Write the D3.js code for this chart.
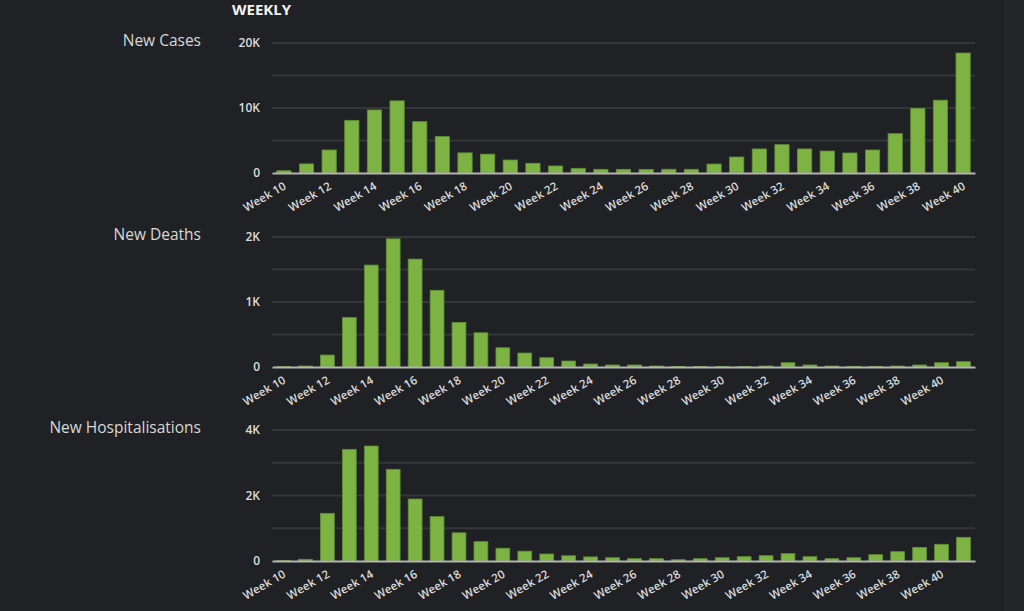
<!DOCTYPE html>
<html>
<head>
<meta charset="utf-8">
<script src="https://d3js.org/d3.v7.min.js"></script>
<style>
  body { margin: 0; background: #202124; }
  svg { display: block; }
</style>
</head>
<body>
<svg id="drawing_region"></svg>
<script>
// weekly figures
const caseWeeks = d3.range(10, 41);
const caseValues = [350, 1400, 3540, 8100, 9700, 11100, 7900, 5600, 3100, 2900,
    2000, 1500, 1080, 720, 570, 570, 560, 580, 570, 1380,
    2460, 3700, 4360, 3700, 3380, 3080, 3540, 6050, 9950, 11200,
    18460];

const deathWeeks = d3.range(10, 42);
const deathValues = [5, 15, 184, 762, 1568, 1972, 1660, 1180, 685, 526,
    296, 215, 143, 92, 46, 31, 31, 15, 8, 8,
    6, 6, 15, 66, 31, 15, 10, 10, 15, 31,
    66, 82];

const hospWeeks = d3.range(10, 42);
const hospValues = [10, 52, 1456, 3410, 3511, 2799, 1893, 1355, 860, 590,
    390, 300, 214, 160, 125, 100, 71, 71, 40, 71,
    100, 132, 163, 224, 132, 71, 100, 193, 285, 417,
    509, 723];

const caseGrid = [0, 5000, 10000, 15000, 20000];
const caseTicks = [0, 10000, 20000];
const deathGrid = [0, 500, 1000, 1500, 2000];
const deathTicks = [0, 1000, 2000];
const hospGrid = [0, 1000, 2000, 3000, 4000];
const hospTicks = [0, 2000, 4000];

const svg = d3.select('#drawing_region')
    .attr('width', 1024)
    .attr('height', 611);

svg.append('rect')
    .attr('width', 1024).attr('height', 611)
    .attr('fill', '#202124');
svg.append('rect')
    .attr('x', 1004).attr('width', 20).attr('height', 611)
    .attr('fill', '#242529');

svg.append('text')
    .attr('x', 232)
    .attr('y', 15)
    .attr('fill', '#f2f2f2')
    .attr('font-family', 'Open Sans, sans-serif')
    .attr('font-size', '15px')
    .attr('font-weight', 'bold')
    .text('WEEKLY');

class BarChart {

    constructor( config, weeks, values ) {
        this.config = {
            parent: config.parent,
            title: config.title,
            top: config.top,
            bottom: config.bottom,
            left: config.left || 272,
            right: config.right || 975,
            ymax: config.ymax,
            grid: config.grid,
            ticks: config.ticks
        };
        this.data = weeks.map( (w, i) => ({ week: w, value: values[i] }) );
        this.init();
    }

    init() {
        let self = this;

        self.chart = self.config.parent.append('g');

        self.xscale = d3.scaleBand()
            .range( [self.config.left, self.config.right] )
            .paddingInner(0.37)
            .paddingOuter(0.21);

        self.yscale = d3.scaleLinear()
            .range( [self.config.bottom, self.config.top] );

        self.grid_group = self.chart.append('g');
        self.bar_group = self.chart.append('g');
        self.xaxis_group = self.chart.append('g')
            .attr('transform', `translate(0, ${self.config.bottom})`);
        self.yaxis_group = self.chart.append('g')
            .attr('transform', `translate(${self.config.left}, 0)`);

        self.chart.append('text')
            .attr('x', 201)
            .attr('y', self.config.top - 2)
            .attr('dy', '0.35em')
            .attr('text-anchor', 'end')
            .attr('fill', '#d8d8d8')
            .attr('font-family', 'Open Sans, sans-serif')
            .attr('font-size', '15.5px')
            .text(self.config.title);
    }

    update() {
        let self = this;
        self.xscale.domain( self.data.map(d => d.week) );
        self.yscale.domain( [0, self.config.ymax] );
        self.render();
    }

    render() {
        let self = this;

        self.grid_group.selectAll('line')
            .data(self.config.grid.slice(1))
            .join('line')
            .attr('x1', self.config.left)
            .attr('x2', self.config.right)
            .attr('y1', d => self.yscale(d))
            .attr('y2', d => self.yscale(d))
            .attr('stroke', '#35363a')
            .attr('stroke-width', 2);

        self.bar_group.selectAll('rect')
            .data(self.data)
            .join('rect')
            .attr('x', d => self.xscale(d.week))
            .attr('y', d => self.yscale(d.value))
            .attr('width', self.xscale.bandwidth())
            .attr('height', d => self.config.bottom - self.yscale(d.value))
            .attr('fill', '#7cb342')
            .attr('stroke', '#5f8f33')
            .attr('stroke-width', 0.8);

        const xaxis = d3.axisBottom( self.xscale )
            .tickValues( self.data.map(d => d.week).filter(w => w % 2 == 0) )
            .tickFormat( w => 'Week ' + w )
            .tickSize(0)
            .tickSizeOuter(0);

        self.xaxis_group.call( xaxis );
        self.xaxis_group.select('.domain')
            .attr('stroke', '#b4b4b4')
            .attr('stroke-width', 2);
        self.xaxis_group.selectAll('text')
            .attr('x', 0)
            .attr('y', 0)
            .attr('dy', '0.35em')
            .attr('transform', 'translate(1, 12) rotate(-30)')
            .attr('text-anchor', 'end')
            .attr('fill', '#dadada')
            .attr('font-family', 'Open Sans, sans-serif')
            .attr('font-size', '11.5px')
            .attr('font-weight', 600);

        const yaxis = d3.axisLeft( self.yscale )
            .tickValues( self.config.ticks )
            .tickFormat( d => d == 0 ? '0' : d3.format('.0s')(d).replace('k', 'K') )
            .tickSize(0)
            .tickPadding(12);

        self.yaxis_group.call( yaxis );
        self.yaxis_group.select('.domain').remove();
        self.yaxis_group.selectAll('text')
            .attr('fill', '#dcdcdc')
            .attr('font-family', 'Open Sans, sans-serif')
            .attr('font-size', '12px')
            .attr('font-weight', 600);
    }
}

const cases = new BarChart({ parent: svg, title: 'New Cases', top: 43, bottom: 173,
    ymax: 20000, grid: caseGrid, ticks: caseTicks }, caseWeeks, caseValues);
cases.update();

const deaths = new BarChart({ parent: svg, title: 'New Deaths', top: 237, bottom: 367,
    ymax: 2000, grid: deathGrid, ticks: deathTicks }, deathWeeks, deathValues);
deaths.update();

const hosp = new BarChart({ parent: svg, title: 'New Hospitalisations', top: 430, bottom: 561,
    ymax: 4000, grid: hospGrid, ticks: hospTicks }, hospWeeks, hospValues);
hosp.update();
</script>
</body>
</html>
